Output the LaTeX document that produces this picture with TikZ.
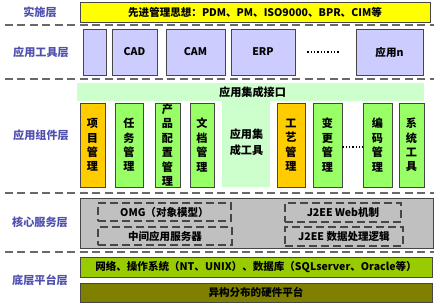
\documentclass[tikz,border=0pt]{standalone}
\usepackage{fontspec}
\setmainfont{Noto Sans CJK SC}
\usepackage{tikz}
\usetikzlibrary{positioning}
\definecolor{LayerBlue}{RGB}{80,80,176}
\definecolor{EdgeGray}{RGB}{70,70,70}
\definecolor{SepGray}{RGB}{105,105,105}
\definecolor{ImplYellow}{RGB}{255,255,0}
\definecolor{ToolPurple}{RGB}{204,204,255}
\definecolor{IfaceGreen}{RGB}{204,255,204}
\definecolor{CompGreen}{RGB}{153,255,102}
\definecolor{CompOrange}{RGB}{255,204,0}
\definecolor{CoreGray}{RGB}{192,192,192}
\definecolor{NetGreen}{RGB}{153,204,0}
\definecolor{HwOlive}{RGB}{128,128,0}
\newlength\pxu
\setlength\pxu{0.03cm}
\tikzset{
  layerlbl/.style={font=\bfseries\fontsize{9.5}{11}\selectfont, text=LayerBlue},
  box/.style={
    rectangle, draw=EdgeGray, line width=0.8pt, inner sep=0pt,
    font=\bfseries\fontsize{9}{11}\selectfont, text=black
  },
  toolbox/.style={box, fill=ToolPurple, minimum height=46\pxu},
  comp/.style={
    box, fill=CompGreen, minimum height=84\pxu, align=center,
    font=\bfseries\fontsize{9.5}{12.3}\selectfont
  },
  comporg/.style={comp, fill=CompOrange},
  bar/.style={box, minimum width=352\pxu, minimum height=20\pxu},
  svc/.style={
    rectangle, draw=EdgeGray, line width=1pt, inner sep=0pt,
    dash pattern=on 8\pxu off 4\pxu,
    font=\bfseries\fontsize{9}{11}\selectfont, text=black
  },
  sep/.style={draw=SepGray, line width=1.4pt, dash pattern=on 8\pxu off 4.5\pxu},
  dotline/.style={draw=black, line width=1.4\pxu, dash pattern=on 1.4\pxu off 1.9\pxu}
}
\begin{document}
\begin{tikzpicture}[x=0.03cm, y=-0.03cm]
  \useasboundingbox (0,0) rectangle (434,305);

  % layer labels
  \node[layerlbl] (l1) at (40,12)  {实施层};
  \node[layerlbl] (l2) at (41,52)  {应用工具层};
  \node[layerlbl] (l3) at (41,135) {应用组件层};
  \node[layerlbl] (l4) at (40,222) {核心服务层};
  \node[layerlbl] (l5) at (40,280) {底层平台层};

  % separators
  \foreach \yy in {25,79,193,252}
    \draw[sep] (5,\yy) -- (434,\yy);

  % implementation layer
  \node[bar, fill=ImplYellow, minimum width=350\pxu] (impl) at (255,12)
    {先进管理思想：PDM、PM、ISO9000、BPR、CIM等};

  % application tools
  \node[toolbox, minimum width=23\pxu] (t0)   at (94.5,52)  {};
  \node[toolbox, minimum width=45\pxu] (cad)  at (134.5,52) {CAD};
  \node[toolbox, minimum width=59\pxu] (cam)  at (195.5,52) {CAM};
  \node[toolbox, minimum width=64\pxu] (erp)  at (263,52)   {ERP};
  \node[toolbox, minimum width=67\pxu] (appn) at (389.5,52) {应用n};
  \draw[dotline, shorten <=12\pxu, shorten >=16\pxu] (erp.east) -- (appn.west);

  % integration interface (inverted T)
  \fill[IfaceGreen] (77,83) rectangle (424,101);
  \fill[IfaceGreen] (222,101) rectangle (270,187);
  \node[font=\bfseries\fontsize{9.5}{11}\selectfont, anchor=west] (iface) at (215,92) {应用集成接口};
  \node[font=\bfseries\fontsize{9.5}{14}\selectfont, align=center] (itool) at (246.5,142) {应用集\\成工具};

  % application components
  \node[comporg, minimum width=25\pxu] (cp1) at (92.5,145)  {项\\目\\管\\理};
  \node[comp,    minimum width=28\pxu] (cp2) at (129,145)   {任\\务\\管\\理};
  \node[comp,    minimum width=25\pxu] (cp3) at (167.5,145) {产\\品\\配\\置\\管\\理};
  \node[comp,    minimum width=24\pxu] (cp4) at (202,145)   {文\\档\\管\\理};
  \node[comporg, minimum width=28\pxu] (cp5) at (291,145)   {工\\艺\\管\\理};
  \node[comp,    minimum width=29\pxu] (cp6) at (327.5,145) {变\\更\\管\\理};
  \node[comp,    minimum width=29\pxu] (cp7) at (377.5,145) {编\\码\\管\\理};
  \node[comp,    minimum width=25\pxu] (cp8) at (411.5,145) {系\\统\\工\\具};
  \draw[dotline] ([yshift=-2\pxu]cp6.east) -- ([yshift=-2\pxu]cp7.west);

  % core services
  \node[box, fill=CoreGray, minimum width=353\pxu, minimum height=50\pxu] (core) at (256.5,223) {};
  \node[svc, minimum width=133\pxu, minimum height=18\pxu] (omg)  at (164.5,212) {OMG（对象模型）};
  \node[svc, minimum width=134\pxu, minimum height=18\pxu] (mid)  at (165,236)   {中间应用服务器};
  \node[svc, minimum width=116\pxu, minimum height=19\pxu] (web)  at (343,212.5) {J2EE Web机制};
  \node[svc, minimum width=118\pxu, minimum height=19\pxu] (data) at (344,236.5) {J2EE 数据处理逻辑};

  % base platform
  \node[bar, fill=NetGreen] (net) at (256,267)
    {网络、操作系统（NT、UNIX）、数据库（SQLserver、Oracle等）};
  \node[bar, fill=HwOlive, minimum height=19\pxu] (hw) at (256,292.5) {异构分布的硬件平台};
\end{tikzpicture}
\end{document}
